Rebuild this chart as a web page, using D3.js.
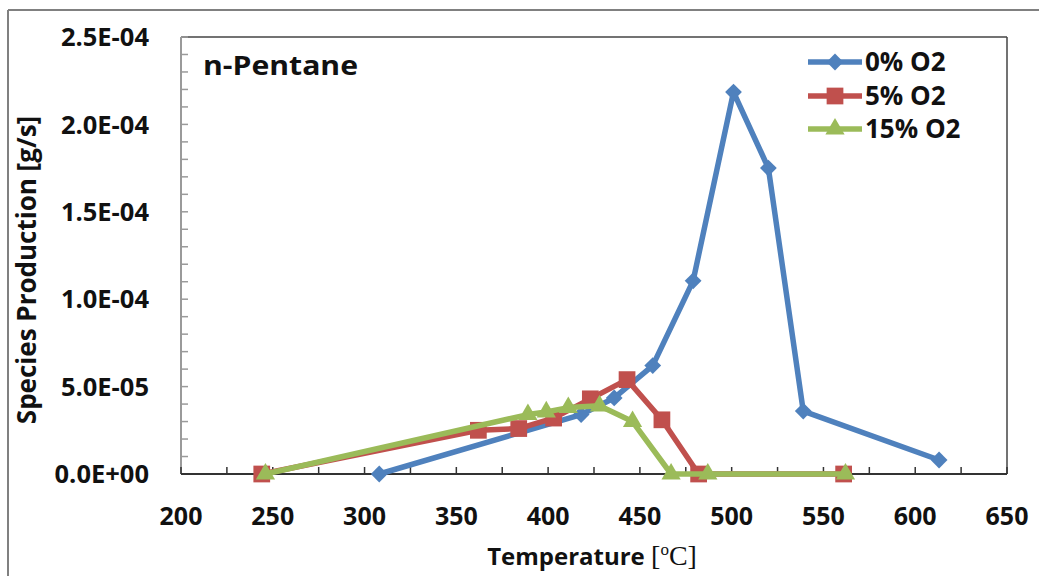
<!DOCTYPE html>
<html>
<head>
<meta charset="utf-8">
<script src="https://cdn.jsdelivr.net/npm/d3@7"></script>
<style>
  body { margin: 0; background: #fff; }
  text { font-family: "Open Sans", sans-serif; font-weight: bold; fill: #111; }
</style>
</head>
<body>
<div id="chart"></div>
<script>
var width = 1039;
var height = 576;

// series: temperature (C) and production (g/s)
var temp0 = [308, 418, 436, 457, 479, 501, 520, 539, 613];
var prod0 = [0, 3.4e-5, 4.35e-5, 6.2e-5, 1.105e-4, 2.185e-4, 1.75e-4, 3.6e-5, 8e-6];

var temp5 = [244, 362, 384, 403, 423, 443, 462, 482, 561];
var prod5 = [0, 2.5e-5, 2.6e-5, 3.2e-5, 4.3e-5, 5.4e-5, 3.1e-5, 0, 0];

var temp15 = [246, 389, 399, 411, 428, 446, 467, 487, 562];
var prod15 = [0, 3.4e-5, 3.55e-5, 3.8e-5, 3.9e-5, 3.0e-5, 0, 0, 0];

var seriesNames = ["0% O2", "5% O2", "15% O2"];
var xTicks = [200, 250, 300, 350, 400, 450, 500, 550, 600, 650];
var yTicks = [0, 5e-5, 1e-4, 1.5e-4, 2e-4, 2.5e-4];
var yTickLabels = ["0.0E+00", "5.0E-05", "1.0E-04", "1.5E-04", "2.0E-04", "2.5E-04"];

var colors = ["#4F81BD", "#C0504D", "#9BBB59"];
var symbols = [d3.symbolDiamond2, d3.symbolSquare, d3.symbolTriangle];
var symSizes = [180, 280, 160];

var svg = d3.select("#chart")
    .append("svg")
    .attr("width", width)
    .attr("height", height);

// outer frame (only top and left show)
svg.append("line").attr("x1", 8).attr("x2", width).attr("y1", 10).attr("y2", 10)
    .attr("stroke", "#808080").attr("stroke-width", 2);
svg.append("line").attr("x1", 8).attr("x2", 8).attr("y1", 10).attr("y2", height)
    .attr("stroke", "#808080").attr("stroke-width", 2);

var x = d3.scaleLinear().domain([200, 650]).range([181, 1007]);
var y = d3.scaleLinear().domain([0, 2.5e-4]).range([474, 37]);

// plot frame top/right
svg.append("line").attr("x1", x(200)).attr("x2", x(650)).attr("y1", y(2.5e-4)).attr("y2", y(2.5e-4))
    .attr("stroke", "#444").attr("stroke-width", 1.5);
svg.append("line").attr("x1", x(650)).attr("x2", x(650)).attr("y1", y(2.5e-4)).attr("y2", y(0))
    .attr("stroke", "#444").attr("stroke-width", 1.5);

// y axis, ticks pointing in
var yMinor = d3.range(0, 26).map(function(i) { return i * 1e-5; });
svg.append("line").attr("x1", x(200)).attr("x2", x(200)).attr("y1", y(0)).attr("y2", y(2.5e-4))
    .attr("stroke", "#9a9a9a").attr("stroke-width", 2);
svg.selectAll(".ytick").data(yMinor).enter().append("line")
    .attr("x1", x(200)).attr("x2", x(200) + 7)
    .attr("y1", function(d) { return y(d); }).attr("y2", function(d) { return y(d); })
    .attr("stroke", "#9a9a9a").attr("stroke-width", 1.5);
svg.selectAll(".ylab").data(yTicks).enter().append("text")
    .attr("x", 149).attr("y", function(d) { return y(d); })
    .attr("dy", "0.36em")
    .attr("text-anchor", "end")
    .style("font-size", "25.5px")
    .text(function(d, i) { return yTickLabels[i]; });

// x axis, ticks pointing up
var xMinor = d3.range(200, 651, 25);
svg.append("line").attr("x1", x(200)).attr("x2", x(650)).attr("y1", y(0)).attr("y2", y(0))
    .attr("stroke", "#333").attr("stroke-width", 2);
svg.selectAll(".xtick").data(xMinor).enter().append("line")
    .attr("x1", function(d) { return x(d); }).attr("x2", function(d) { return x(d); })
    .attr("y1", y(0)).attr("y2", y(0) - 7)
    .attr("stroke", "#333").attr("stroke-width", 1.5);
svg.selectAll(".xlab").data(xTicks).enter().append("text")
    .attr("x", function(d) { return x(d); }).attr("y", 525)
    .attr("text-anchor", "middle")
    .style("font-size", "25px")
    .text(function(d) { return d; });

// axis titles
var xt = svg.append("text").attr("x", 592).attr("y", 565).attr("text-anchor", "middle")
    .style("font-size", "24px");
xt.append("tspan").text("Temperature ");
xt.append("tspan").style("font-family", "'Liberation Serif', serif").style("font-weight", "normal")
    .style("font-size", "28px").text("[");
xt.append("tspan").style("font-family", "'Liberation Serif', serif").style("font-weight", "normal")
    .style("font-size", "17px").attr("dy", -10).text("o");
xt.append("tspan").style("font-family", "'Liberation Serif', serif").style("font-weight", "normal")
    .style("font-size", "28px").attr("dy", 10).text("C]");

svg.append("text")
    .attr("transform", "translate(36,270) rotate(-90)")
    .attr("text-anchor", "middle")
    .style("font-size", "26px")
    .text("Species Production [g/s]");

svg.append("text").attr("x", 203).attr("y", 75).style("font-size", "26px")
    .attr("textLength", 155).attr("lengthAdjust", "spacingAndGlyphs")
    .text("n-Pentane");

// series
var allSeries = [
    temp0.map(function(t, i) { return [t, prod0[i]]; }),
    temp5.map(function(t, i) { return [t, prod5[i]]; }),
    temp15.map(function(t, i) { return [t, prod15[i]]; })
];

var line = d3.line()
    .x(function(d) { return x(d[0]); })
    .y(function(d) { return y(d[1]); });

allSeries.forEach(function(s, k) {
    svg.append("path")
        .datum(s)
        .attr("d", line)
        .attr("fill", "none")
        .attr("stroke", colors[k])
        .attr("stroke-width", 5.5)
        .attr("stroke-linejoin", "round");
    svg.selectAll(".m" + k).data(s).enter().append("path")
        .attr("d", d3.symbol().type(symbols[k]).size(symSizes[k]))
        .attr("transform", function(d) { return "translate(" + x(d[0]) + "," + y(d[1]) + ")"; })
        .attr("fill", colors[k]);
});

// legend
var legY = [62, 96, 129];
seriesNames.forEach(function(name, k) {
    svg.append("line").attr("x1", 808).attr("x2", 862).attr("y1", legY[k]).attr("y2", legY[k])
        .attr("stroke", colors[k]).attr("stroke-width", 5.5);
    svg.append("path")
        .attr("d", d3.symbol().type(symbols[k]).size(symSizes[k]))
        .attr("transform", "translate(835," + legY[k] + ")")
        .attr("fill", colors[k]);
    svg.append("text").attr("x", 865).attr("y", legY[k]).attr("dy", "0.36em")
        .style("font-size", "26px")
        .text(name);
});
</script>
</body>
</html>
